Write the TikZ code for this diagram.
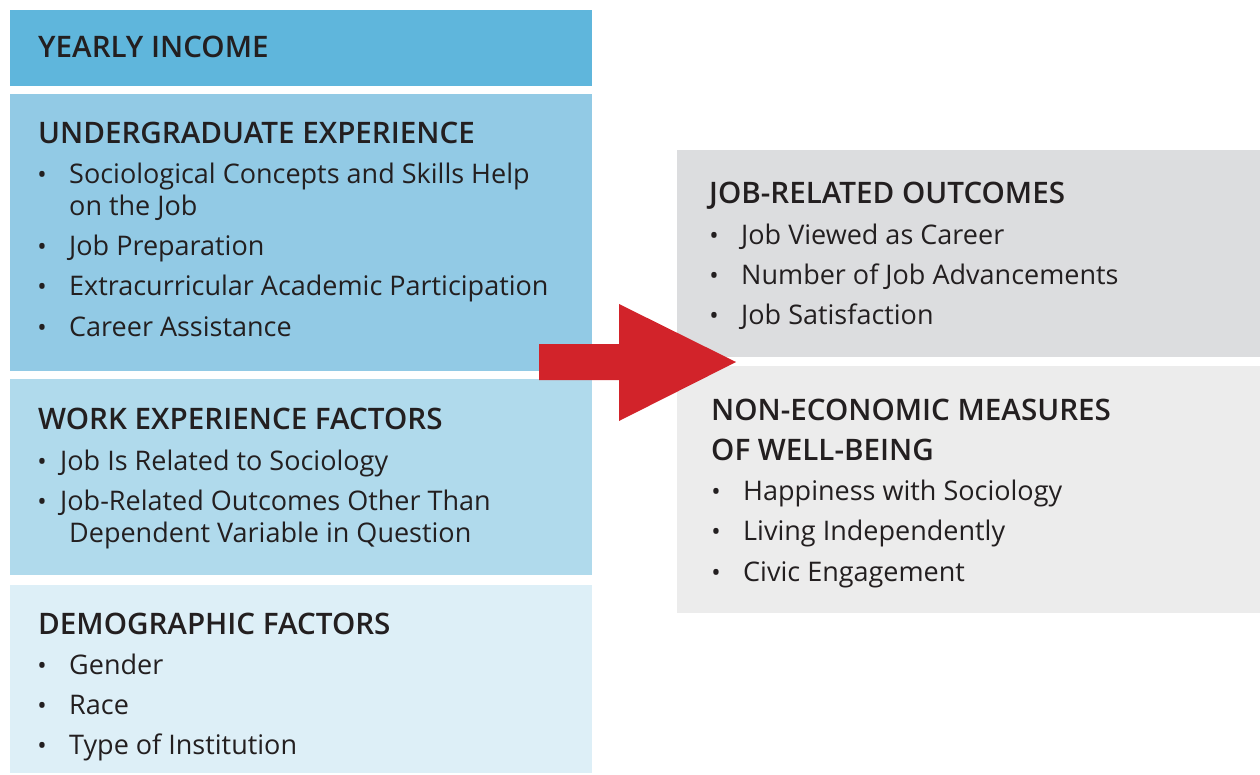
\documentclass[tikz,border=0pt]{standalone}
\usepackage{fontspec}
\setmainfont{Open Sans}
% semibold face for the headings when available
\IfFontExistsTF{Open Sans SemiBold}{\newfontfamily\headfont{Open Sans SemiBold}}{%
  \IfFontExistsTF{Open Sans Semibold}{\newfontfamily\headfont{Open Sans Semibold}}{%
    \IfFontExistsTF{OpenSans-SemiBold.ttf}{\newfontfamily\headfont{OpenSans-SemiBold.ttf}}{%
      \newcommand\headfont{\bfseries}}}}
\usetikzlibrary{positioning}
\definecolor{incomeblue}{HTML}{5FB6DC}
\definecolor{ugradblue}{HTML}{92CAE5}
\definecolor{workblue}{HTML}{B0DAEC}
\definecolor{demogblue}{HTML}{DDEFF7}
\definecolor{jobgray}{HTML}{DCDDDF}
\definecolor{wellgray}{HTML}{ECECEC}
\definecolor{arrowred}{HTML}{D2232A}
\definecolor{inkdark}{HTML}{231F20}

\begin{document}
\begin{tikzpicture}[x=1pt, y=-1pt,
  panel/.style={anchor=north west, inner sep=0pt, minimum width=582pt},
  head/.style={anchor=base west, inner sep=0pt, text=inkdark, font=\headfont\fontsize{29.6}{32}\selectfont},
  item/.style={anchor=base west, inner sep=0pt, text=inkdark, font=\fontsize{27}{32}\selectfont},
  dot/.style={anchor=base, inner sep=0pt, text=inkdark, font=\fontsize{25}{32}\selectfont}]
  \useasboundingbox (0,0) rectangle (1260,775);

  % left column
  \node[panel, fill=incomeblue, minimum height=76pt] (income) at (10,10) {};
  \node[panel, fill=ugradblue, minimum height=277pt] (ugrad) at (10,94) {};
  \node[panel, fill=workblue, minimum height=196pt] (work) at (10,379) {};
  \node[panel, fill=demogblue, minimum height=188pt] (demog) at (10,585) {};

  % right column
  \node[panel, fill=jobgray, minimum width=583pt, minimum height=207pt] (jobout) at (677,150) {};
  \node[panel, fill=wellgray, minimum width=583pt, minimum height=247pt] (wellb) at (677,366) {};

  \node[head] (incomeT) at (38,58) {YEARLY INCOME};

  \node[head] (ugradT) at (38,144) {UNDERGRADUATE EXPERIENCE};
  \node[dot] (ug1d) at (42,184) {•};
  \node[item] (ug1) at (69,184) {Sociological Concepts and Skills Help};
  \node[item] (ug1b) at (69,216) {on the Job};
  \node[dot] (ug2d) at (42,256) {•};
  \node[item] (ug2) at (69,256) {Job Preparation};
  \node[dot] (ug3d) at (42,296) {•};
  \node[item] (ug3) at (69,296) {Extracurricular Academic Participation};
  \node[dot] (ug4d) at (42,336) {•};
  \node[item] (ug4) at (69,336) {Career Assistance};

  \node[head] (workT) at (38,429) {WORK EXPERIENCE FACTORS};
  \node[dot] (wk1d) at (42,470) {•};
  \node[item] (wk1) at (60,470) {Job Is Related to Sociology};
  \node[dot] (wk2d) at (42,510) {•};
  \node[item] (wk2) at (60,510) {Job-Related Outcomes Other Than};
  \node[item] (wk2b) at (69,542) {Dependent Variable in Question};

  \node[head] (demogT) at (38,634) {DEMOGRAPHIC FACTORS};
  \node[dot] (dm1d) at (42,674) {•};
  \node[item] (dm1) at (69,674) {Gender};
  \node[dot] (dm2d) at (42,714) {•};
  \node[item] (dm2) at (69,714) {Race};
  \node[dot] (dm3d) at (42,754) {•};
  \node[item] (dm3) at (69,754) {Type of Institution};

  \node[head] (joboutT) at (709,204) {JOB-RELATED OUTCOMES};
  \node[dot] (jo1d) at (714,245) {•};
  \node[item] (jo1) at (741,245) {Job Viewed as Career};
  \node[dot] (jo2d) at (714,285) {•};
  \node[item] (jo2) at (741,285) {Number of Job Advancements};
  \node[dot] (jo3d) at (714,325) {•};
  \node[item] (jo3) at (741,325) {Job Satisfaction};

  \node[head] (wellbT) at (711,420) {NON-ECONOMIC MEASURES};
  \node[head] (wellbT2) at (711,460) {OF WELL-BEING};
  \node[dot] (wb1d) at (716,500) {•};
  \node[item] (wb1) at (743,500) {Happiness with Sociology};
  \node[dot] (wb2d) at (716,540) {•};
  \node[item] (wb2) at (743,540) {Living Independently};
  \node[dot] (wb3d) at (716,581) {•};
  \node[item] (wb3) at (743,581) {Civic Engagement};

  % big red arrow across the gap
  \fill[arrowred] (539,344) -- (619,344) -- (619,304) -- (736,362)
    -- (619,421) -- (619,380) -- (539,380) -- cycle;
\end{tikzpicture}
\end{document}
